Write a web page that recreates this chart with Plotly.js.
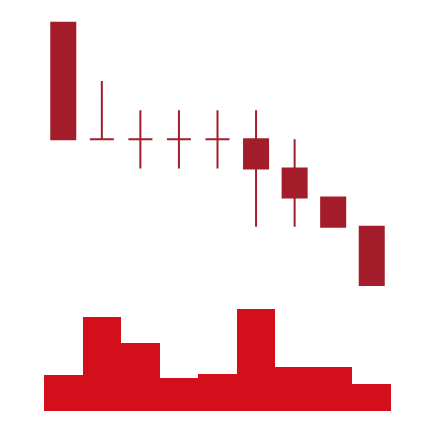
<!DOCTYPE html>
<html>
<head>
<meta charset="utf-8">
<script src="https://cdn.plot.ly/plotly-3.0.1.min.js"></script>
<style>html,body{margin:0;padding:0;background:#fff;}#chart{width:434px;height:422px;}</style>
</head>
<body>
<div id="chart"></div>
<script>
var periods = ['P1','P2','P3','P4','P5','P6','P7','P8','P9'];
var openVals  = [14, 10, 10, 10, 10, 10, 9, 8, 7];
var highVals  = [14, 12, 11, 11, 11, 11, 10, 8, 7];
var lowVals   = [10, 10, 9, 9, 9, 7, 7, 7, 5];
var closeVals = [10, 10, 10, 10, 10, 9, 8, 7, 5];
var volumes   = [36, 94, 68, 33, 37, 102, 44, 44, 27];

var candleColor = '#a31e2a';
var volColor = '#d30f1b';

var traces = [
  {
    type: 'bar',
    x: periods,
    y: volumes,
    yaxis: 'y2',
    marker: {color: volColor, line: {width: 0}},
    hoverinfo: 'none'
  },
  {
    type: 'candlestick',
    x: periods,
    open: openVals,
    high: highVals,
    low: lowVals,
    close: closeVals,
    increasing: {line: {color: candleColor, width: 2}, fillcolor: candleColor},
    decreasing: {line: {color: candleColor, width: 2}, fillcolor: candleColor},
    hoverinfo: 'none'
  }
];

var layout = {
  width: 434,
  height: 422,
  margin: {l: 0, r: 0, t: 0, b: 11, pad: 0},
  paper_bgcolor: '#ffffff',
  plot_bgcolor: '#ffffff',
  showlegend: false,
  bargap: 0,
  boxgap: 0.11,
  boxgroupgap: 0.3,
  xaxis: {type: 'category', range: [-1.641, 9.615], visible: false, showgrid: false, zeroline: false, rangeslider: {visible: false}, fixedrange: true},
  yaxis: {range: [0.679, 14.779], visible: false, showgrid: false, zeroline: false, fixedrange: true},
  yaxis2: {range: [0, 411], overlaying: 'y', visible: false, showgrid: false, zeroline: false, fixedrange: true}
};

Plotly.newPlot('chart', traces, layout, {staticPlot: true, displayModeBar: false});
</script>
</body>
</html>
